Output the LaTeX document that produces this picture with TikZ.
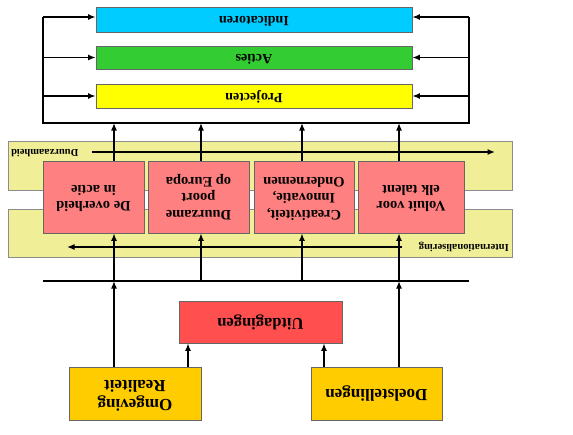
\documentclass[tikz,border=0pt]{standalone}
\usepackage{fontspec}
\setmainfont{Liberation Serif}
\usepackage{graphicx}
\usetikzlibrary{arrows.meta}
\definecolor{cind}{HTML}{00CCFF}
\definecolor{cact}{HTML}{33CC33}
\definecolor{cproj}{HTML}{FFFF00}
\definecolor{cband}{HTML}{F0EE96}
\definecolor{cpink}{HTML}{FF8080}
\definecolor{cuit}{HTML}{FF4F4F}
\definecolor{cgold}{HTML}{FFCC00}
\newcommand{\upd}[2]{\rotatebox[origin=c]{180}{\begin{tabular}{@{}c@{}}#2\end{tabular}}}
\tikzset{
  boxnode/.style={draw=black!60, line width=0.8pt, inner sep=0pt, font=\bfseries},
  band/.style={draw=black!45, fill=cband, line width=0.8pt},
  arr/.style={line width=1.4pt, -{Latex[length=7.5pt,width=6pt]}},
  ln/.style={line width=1.4pt},
  bandlabel/.style={font=\bfseries\fontsize{10.5}{11}\selectfont, inner sep=0pt}
}
\begin{document}
\begin{tikzpicture}[x=1pt,y=-1pt]
\useasboundingbox (0,0) rectangle (573,434);
% bands
\draw[band] (8,141) rectangle (512,190);
\draw[band] (8,209) rectangle (512,257);
% top boxes
\node[boxnode, fill=cind, minimum width=316pt, minimum height=25pt, font=\bfseries\fontsize{14}{15}\selectfont] (ind) at (254,19.5) {\upd{}{Indicatoren}};
\node[boxnode, fill=cact, minimum width=316pt, minimum height=23pt, font=\bfseries\fontsize{14}{15}\selectfont] (act) at (254,57.5) {\upd{}{Acties}};
\node[boxnode, fill=cproj, minimum width=316pt, minimum height=24pt, font=\bfseries\fontsize{14}{15}\selectfont] (proj) at (254,96) {\upd{}{Projecten}};
% loop
\coordinate (TL) at (43,17);
\coordinate (BL) at (43,123);
\coordinate (BR) at (469,123);
\coordinate (TR) at (469,17);
\draw[ln] (TL) -- (BL) -- (BR) -- (TR);
\draw[arr] (TL) -- (TL -| ind.west);
\draw[arr] (act.west -| TL) -- (act.west);
\draw[arr] (proj.west -| TL) -- (proj.west);
\draw[arr] (TR) -- (TR -| ind.east);
\draw[arr] (act.east -| TR) -- (act.east);
\draw[arr] (proj.east -| TR) -- (proj.east);
% band arrows and labels
\coordinate (da) at (92,152);
\coordinate (db) at (495,152);
\draw[arr] (da) -- (db);
\node[bandlabel, anchor=west] (dl) at (11,152) {\upd{}{Duurzaamheid}};
\coordinate (ia) at (402,247);
\coordinate (ib) at (67,247);
\draw[arr] (ia) -- (ib);
\node[bandlabel, anchor=east] (il) at (509,247) {\upd{}{Internationalisering}};
% pink boxes
\tikzset{pink/.style={boxnode, fill=cpink, minimum height=72pt, font=\bfseries\fontsize{14.5}{16.5}\selectfont}}
\node[pink, minimum width=101pt] (r1) at (93.5,197) {\upd{}{De overheid\\in actie}};
\node[pink, minimum width=101pt] (r2) at (198.5,197) {\upd{}{Duurzame\\poort\\op Europa}};
\node[pink, minimum width=100pt] (r3) at (304,197) {\upd{}{Creativiteit,\\Innovatie,\\Ondernemen}};
\node[pink, minimum width=106pt] (r4) at (411,197) {\upd{}{Voluit voor\\elk talent}};
% vertical lines
\coordinate (L) at (43,281);
\coordinate (R) at (469,281);
\draw[ln] (L) -- (R);
\foreach \i/\x in {1/114,2/201,3/302,4/399}{
  \coordinate (b\i) at (\x,281);
  \coordinate (t\i) at (\x,123);
  \draw[arr] (b\i) -- (b\i |- r\i.south);
  \draw[arr] (t\i |- r\i.north) -- (t\i);
}
% bottom boxes
\node[boxnode, fill=cuit, minimum width=163pt, minimum height=42pt, font=\bfseries\fontsize{16.5}{18}\selectfont] (uit) at (260.5,322) {\upd{}{Uitdagingen}};
\node[boxnode, fill=cgold, minimum width=132pt, minimum height=53pt, font=\bfseries\fontsize{17}{19}\selectfont] (om) at (135,393.5) {\upd{}{Omgeving\\Realiteit}};
\node[boxnode, fill=cgold, minimum width=131pt, minimum height=53pt, font=\bfseries\fontsize{17}{19}\selectfont] (doel) at (376.5,393.5) {\upd{}{Doelstellingen}};
\coordinate (ua) at (188,0);
\coordinate (ub) at (324,0);
\draw[arr] (om.north -| b1) -- (b1);
\draw[arr] (doel.north -| b4) -- (b4);
\draw[arr] (om.north -| ua) -- (uit.south -| ua);
\draw[arr] (doel.north -| ub) -- (uit.south -| ub);
\end{tikzpicture}
\end{document}
